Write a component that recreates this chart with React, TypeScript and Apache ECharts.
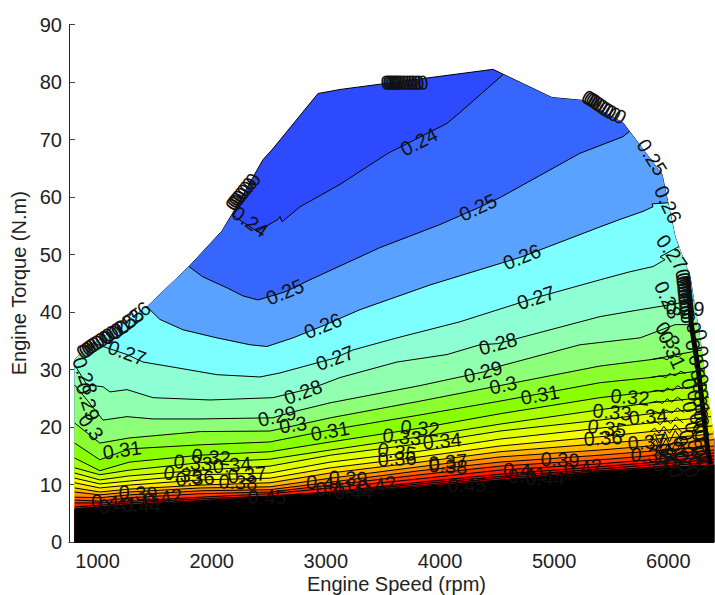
import React, { useEffect, useRef } from "react";
import * as echarts from "echarts";

type P = [number, number];
type L = [number, number, string, number];

const speedTicks = [1000, 2000, 3000, 4000, 5000, 6000];
const gridSpeeds = [800, 1020, 1280, 1900, 2510, 3040, 3825, 4525, 5400, 5840];

const leftEdge: P[] = [[800, 31.7], [890, 33.4], [1433, 40.9], [1801, 47.9], [2090, 54.1], [2187, 57.3], [2449, 66.5], [2528, 68.2], [2931, 78.0], [3124, 78.7], [4464, 82.2]];
const rightEdge: P[] = [[4981, 77.3], [5253, 76.8], [5603, 72.9], [5945, 63.9], [6059, 53.1], [6190, 46.1], [6278, 35.2], [6348, 24.7], [6400, 17.8]];

const line024: P[] = [[2178, 56.9], [2397, 54.0], [2581, 56.1], [2598, 56.6], [2616, 55.7], [2774, 58.3], [3124, 62.2], [3544, 67.6], [4061, 72.8], [4175, 74.7], [4552, 81.3]];
const line025: P[] = [[1801, 47.9], [1924, 46.1], [2134, 44.2], [2274, 42.8], [2406, 42.1], [2642, 43.5], [2861, 45.6], [3474, 51.2], [3999, 55.2], [4333, 58.1], [4526, 59.9], [5226, 67.6], [5603, 70.5], [5660, 71.4]];
const line026: P[] = [[1433, 40.9], [1547, 38.7], [1749, 36.9], [2046, 35.5], [2336, 34.3], [2484, 34.0], [2712, 35.5], [2975, 37.6], [3299, 40.4], [3912, 44.7], [4718, 49.6], [5402, 54.8], [5577, 56.1], [5778, 57.5], [5866, 58.3], [5857, 58.8], [5997, 59.0]];
const line027: P[] = [[960, 34.6], [1258, 32.6], [1398, 31.3], [1696, 30.3], [2046, 29.1], [2423, 28.7], [2598, 29.4], [3080, 32.0], [3238, 33.4], [3623, 35.5], [4175, 38.3], [4841, 42.5], [5402, 45.6], [5664, 47.0], [5866, 47.9], [5971, 49.1], [5927, 49.6], [6094, 51.4]];
const line028: P[] = [[800, 30.8], [908, 27.3], [1048, 27.0], [1109, 26.1], [1258, 26.5], [1486, 25.1], [1985, 24.7], [2537, 25.1], [2887, 26.8], [3124, 28.6], [3623, 31.3], [4061, 32.6], [4350, 34.3], [4506, 34.5], [5402, 39.2], [5752, 40.4], [6032, 41.3], [6225, 42.1]];
const line029: P[] = [[800, 27.3], [908, 24.7], [1048, 21.2], [1258, 21.8], [1486, 21.4], [1898, 21.4], [2537, 21.6], [2686, 22.5], [3036, 24.2], [3825, 27.2], [4386, 29.6], [4526, 30.6], [5226, 34.3], [5752, 35.5], [6059, 37.8], [6251, 37.8]];

const torque030 = [20.7, 17.2, 18.1, 19.2, 19.3, 21.6, 24.5, 27.2, 30.6, 31.7, 33.4];
const torque031 = [17.2, 14.3, 16.2, 16.9, 17.4, 19.5, 22.1, 24.5, 27.7, 28.6, 29.9];
const torque032 = [14.6, 12.4, 13.9, 15.1, 15.7, 17.4, 19.8, 22.3, 25.1, 26.1, 27.3];
const torque033 = [12.9, 11.7, 12.5, 13.8, 14.4, 16.0, 18.3, 20.5, 23.0, 24.2, 25.2];
const torque034 = [12.0, 10.8, 11.5, 12.5, 13.2, 15.1, 17.1, 19.3, 21.2, 22.3, 23.3];
const torque035 = [11.1, 10.1, 10.6, 11.7, 12.0, 13.9, 15.8, 17.9, 19.8, 20.7, 21.8];
const torque036 = [10.3, 9.4, 9.9, 10.8, 11.1, 12.9, 14.8, 16.7, 18.3, 19.2, 20.2];
const torque037 = [9.4, 8.7, 9.2, 9.9, 10.3, 12.0, 13.9, 15.7, 17.1, 17.8, 18.8];
const torque038 = [8.7, 8.2, 8.7, 9.4, 9.6, 11.1, 13.1, 14.8, 16.0, 16.7, 17.8];
const torque039 = [7.8, 7.7, 8.2, 8.9, 9.1, 10.4, 12.4, 13.9, 15.1, 15.8, 16.7];
const torque040 = [7.3, 7.1, 7.7, 8.4, 8.7, 9.9, 11.7, 13.2, 14.3, 15.0, 16.0];
const torque041 = [6.8, 6.8, 7.1, 7.8, 8.4, 9.4, 11.0, 12.5, 13.6, 14.3, 15.5];
const torque042 = [6.1, 6.4, 6.8, 7.5, 8.0, 8.7, 10.4, 11.8, 13.1, 13.8, 15.0];
const torque043 = [5.8, 6.1, 6.5, 7.2, 7.9, 8.6, 10.1, 11.4, 12.7, 13.4, 14.4];
const torque045 = [5.7, 6.0, 6.4, 7.1, 7.8, 8.4, 9.8, 11.1, 12.4, 13.0, 13.9];
const torqueBlack = [5.6, 5.9, 6.3, 7.0, 7.7, 8.3, 9.6, 10.8, 12.2, 12.8, 13.4];

const onGrid = (t: number[], endSpeed: number): P[] => t.map((v, i) => [i < gridSpeeds.length ? gridSpeeds[i] : endSpeed, v] as P);

const contourLines: P[][] = [
  line024, line025, line026, line027, line028, line029,
  onGrid(torque030, 6295), onGrid(torque031, 6321), onGrid(torque032, 6339), onGrid(torque033, 6356),
  onGrid(torque034, 6365), onGrid(torque035, 6374), onGrid(torque036, 6383), onGrid(torque037, 6391),
  onGrid(torque038, 6400), onGrid(torque039, 6400), onGrid(torque040, 6400), onGrid(torque041, 6400),
  onGrid(torque042, 6400), onGrid(torque043, 6400), onGrid(torque045, 6400),
];
const blackLine = onGrid(torqueBlack, 6400);

// Jagged ends of the contours close to the right-hand edge.
const rightWiggles: P[][] = [
  [[5840, 31.7], [5950, 32.0], [5990, 31.7], [6030, 32.4], [6090, 32.2], [6130, 32.9]],
  [[5840, 28.6], [5930, 28.9], [5980, 28.6], [6010, 29.3], [6060, 28.9], [6110, 29.7], [6150, 29.3]],
  [[5840, 26.1], [5900, 26.4], [5960, 26.1], [5990, 26.8], [6040, 26.3], [6080, 27.2], [6130, 26.6]],
  [[5840, 24.2], [5900, 24.5], [5950, 24.1], [5990, 24.9], [6030, 24.3], [6080, 25.2], [6130, 24.5]],
  [[5840, 22.3], [5890, 22.7], [5940, 22.1], [5980, 23.0], [6030, 22.4], [6080, 23.3], [6140, 22.5]],
  [[5840, 20.7], [5880, 21.1], [5930, 20.4], [5970, 21.4], [6020, 20.6], [6070, 21.7], [6130, 20.7]],
  [[5840, 19.2], [5880, 19.8], [5920, 18.9], [5960, 20.1], [6010, 18.9], [6060, 20.4], [6120, 19.0]],
  [[5840, 17.8], [5880, 18.9], [5920, 17.2], [5970, 19.2], [6010, 17.4], [6060, 19.4], [6120, 17.6]],
  [[5840, 16.7], [5890, 17.8], [5930, 16.1], [5980, 18.0], [6030, 16.0], [6090, 18.2], [6150, 16.2]],
  [[5840, 15.8], [5890, 16.9], [5940, 15.1], [6000, 17.1], [6050, 15.0], [6110, 17.2], [6170, 15.1]],
];
const edgeHatch: P[] = [[6170, 46], [6200, 38], [6262, 30], [6310, 22], [6345, 16], [6370, 13.5]];

const topColor = "#2E4AFF";
const bandColors = [
  "#3766FF", "#5AA2FF", "#7DFFFF", "#8EFFD4", "#90FFB0", "#8EFF78", "#8CFF30", "#8AFF00",
  "#A8FF00", "#C8FF00", "#E0FF00", "#F4FF00", "#FFE000", "#FFB800", "#FF8C00", "#FF6000",
  "#FF3800", "#FF1800", "#FF0000", "#FF0000", "#FF0000",
];

const mainLabels: L[] = [
  [3816, 69.6, "0.24", 27], [2336, 55.7, "0.24", -35],
  [4333, 58.2, "0.25", 25], [2642, 43.5, "0.25", 22], [5857, 66.9, "0.25", -58],
  [4718, 49.6, "0.26", 22], [2975, 37.6, "0.26", 22], [1311, 39.0, "0.26", 40], [1250, 38.0, "0.25", 38], [1180, 37.0, "0.25", 36], [5997, 58.7, "0.26", -65],
  [4841, 42.5, "0.27", 18], [3080, 32.0, "0.27", 20], [1258, 32.9, "0.27", -20], [6032, 50.3, "0.27", -55],
  [4508, 34.5, "0.28", 15], [2800, 26.1, "0.28", 20], [890, 28.9, "0.28", -70], [5997, 42.1, "0.28", -65],
  [4377, 29.6, "0.29", 15], [2572, 21.9, "0.29", 12], [916, 24.4, "0.29", -72], [6146, 40.7, "0.29", -3],
  [4552, 27.3, "0.3", 12], [2712, 20.4, "0.3", 8], [943, 20.0, "0.3", -55], [5997, 36.0, "0.3", -55],
  [4876, 25.6, "0.31", 10], [3036, 19.3, "0.31", 10], [1214, 16.0, "0.31", 8], [6032, 33.4, "0.31", -65],
  [5664, 25.2, "0.32", -5], [3825, 19.8, "0.32", -5], [1994, 14.8, "0.32", -5],
  [5507, 22.6, "0.33", -5], [3667, 18.3, "0.33", -5], [1836, 13.8, "0.33", -5],
  [5822, 21.8, "0.34", 5], [4018, 17.6, "0.34", 5], [2178, 13.4, "0.34", 5],
  [5463, 19.8, "0.35", -8], [3623, 15.7, "0.35", -8], [1749, 11.7, "0.35", -8],
  [5428, 18.1, "0.36", 3], [3623, 14.5, "0.36", 3], [1854, 11.1, "0.36", 3],
  [5813, 17.4, "0.37", 5], [4070, 13.9, "0.37", 5], [2309, 11.7, "0.37", 5],
  [5840, 15.1, "0.38", -3], [4070, 13.2, "0.38", -3], [2230, 10.4, "0.38", -3],
  [5051, 14.3, "0.39", -3], [3194, 11.1, "0.39", -3], [1354, 8.5, "0.39", -3],
  [4675, 12.5, "0.4", -3], [2949, 10.3, "0.4", -3], [1065, 7.0, "0.4", -3],
  [4762, 11.7, "0.41", 5], [3080, 9.4, "0.41", 5], [1179, 6.4, "0.41", 5],
  [5253, 12.9, "0.42", 8], [3448, 9.9, "0.42", 8], [1573, 7.7, "0.42", 8],
  [4920, 11.1, "0.44", 0], [3240, 8.7, "0.44", 0], [1380, 6.4, "0.44", 0],
  [4236, 9.9, "0.45", 0], [2484, 7.8, "0.45", 0],
];

const stackTop: L[] = [3530, 3546, 3562, 3578, 3594, 3610, 3626, 3644, 3666, 3690, 3716, 3742, 3764, 3790, 3815, 3850].map((s) => [s, 79.9, "0", 8] as L);
const stackUpperRight: L[] = ([[5296, 77.3], [5314, 77.1], [5332, 76.9], [5350, 76.7], [5370, 76.4], [5392, 76.1], [5416, 75.8], [5442, 75.4], [5468, 75.1], [5494, 74.8], [5530, 74.4], [5577, 74.0]] as P[]).map((p) => [p[0], p[1], "0", -30] as L);
const stackUpperLeft: L[] = ([[2187, 58.7], [2200, 59.1], [2213, 59.4], [2226, 59.7], [2242, 60.1], [2262, 60.6], [2284, 61.2], [2306, 61.7], [2330, 62.3], [2362, 63.0]] as P[]).map((p) => [p[0], p[1], "0", 60] as L);
const stackLowerLeft: L[] = ([[873, 33.1], [892, 33.3], [912, 33.6], [932, 33.9], [954, 34.2], [978, 34.5], [1005, 34.8], [1035, 35.2], [1065, 35.6], [1095, 36.0], [1130, 36.4], [1170, 36.9]] as P[]).map((p) => [p[0], p[1], "0", 35] as L);
const stackRightUpper: L[] = ([[6129, 46.5], [6132, 45.9], [6135, 45.4], [6138, 44.9], [6141, 44.3], [6144, 43.7], [6147, 43.2], [6150, 42.6], [6153, 42.1], [6156, 41.5], [6159, 40.9], [6163, 40.3], [6167, 39.7], [6172, 39.0]] as P[]).map((p) => [p[0], p[1], "0", -75] as L);
const stackRightLower: L[] = ([[6225, 37.3], [6278, 36.0], [6216, 34.3], [6290, 33.1], [6243, 31.7], [6290, 30.8], [6260, 29.1], [6290, 28.2], [6278, 26.8], [6290, 25.6], [6280, 24.4], [6295, 23.3], [6285, 22.1], [6295, 20.9], [6280, 19.8], [6295, 18.6], [6270, 18.6], [6290, 17.2], [6234, 16.9], [6295, 16.0], [6172, 15.7], [6290, 15.1], [6102, 14.6], [6234, 13.9], [6015, 13.9], [6146, 13.2], [5927, 13.2], [6290, 13.4], [6067, 12.2], [6207, 12.2], [5950, 16.2], [6000, 15.5], [6060, 16.6], [6110, 17.5], [6160, 18.6], [6210, 20.0], [6250, 21.5], [6190, 23.5], [6230, 25.5], [6180, 27.5], [5975, 14.6], [6040, 13.7], [6120, 15.0], [6260, 15.6]] as P[]).map((p) => [p[0], p[1], "0", -75] as L);

const allLabels: L[] = [...mainLabels, ...stackTop, ...stackUpperRight, ...stackUpperLeft, ...stackLowerLeft, ...stackRightUpper, ...stackRightLower];

const FONT = '"Liberation Sans", Arial, sans-serif';
const TEXT = "#222222";
const bottomRight: P = [6400, 0];
const bottomLeft: P = [800, 0];

// Region under a contour: the line, down the right edge, along the bottom, up the left edge.
const under = (line: P[]): P[] => {
  const a = line[0];
  const b = line[line.length - 1];
  return [...line, ...rightEdge.filter((p) => p[0] > b[0]), bottomRight, bottomLeft, ...leftEdge.filter((p) => p[0] < a[0])];
};
const envelope: P[] = [...leftEdge, ...rightEdge, bottomRight, bottomLeft];

export default function App() {
  const ref = useRef<HTMLDivElement>(null);
  useEffect(() => {
    const chart = echarts.init(ref.current!, undefined, { renderer: "svg" });
    const cx = (api: any, pts: P[]) => pts.map((p) => api.coord(p));
    chart.setOption({
      animation: false,
      backgroundColor: "#ffffff",
      grid: { left: 69, top: 24.5, width: 645, height: 517.5, containLabel: false, outerBoundsMode: "none" },
      xAxis: {
        type: "value", min: 750, max: 6400,
        name: "Engine Speed (rpm)", nameLocation: "middle", nameGap: 32, nameMoveOverlap: false,
        nameTextStyle: { fontFamily: FONT, fontSize: 20, color: TEXT, padding: [0, 0, 0, 10] },
        axisLine: { show: true, lineStyle: { color: "#222", width: 1 } },
        axisTick: { show: true, inside: true, length: 6, customValues: speedTicks, lineStyle: { color: "#444" } },
        axisLabel: { show: true, customValues: speedTicks, formatter: (v: number) => String(v), fontFamily: FONT, fontSize: 20, color: TEXT, margin: 9 },
        splitLine: { show: false },
      },
      yAxis: {
        type: "value", min: 0, max: 90, interval: 10,
        name: "Engine Torque (N.m)", nameLocation: "middle", nameGap: 40,
        nameTextStyle: { fontFamily: FONT, fontSize: 20, color: TEXT },
        axisLine: { show: true, lineStyle: { color: "#222", width: 1 } },
        axisTick: { show: true, inside: true, length: 6, lineStyle: { color: "#444" } },
        axisLabel: { fontFamily: FONT, fontSize: 20, color: TEXT, margin: 7 },
        splitLine: { show: false },
      },
      series: [
        {
          type: "custom", coordinateSystem: "cartesian2d", silent: true, z: 3,
          data: [[0, 0]],
          renderItem: (_: any, api: any) => ({
            type: "group",
            children: [
              { type: "polygon", shape: { points: cx(api, envelope) }, style: { fill: topColor, stroke: "#000", lineWidth: 1 } },
              ...contourLines.map((line, i) => ({ type: "polygon", shape: { points: cx(api, under(line)) }, style: { fill: bandColors[i], stroke: "none" } })),
              ...contourLines.map((line) => ({ type: "polyline", shape: { points: cx(api, line) }, style: { fill: "none", stroke: "#000", lineWidth: 1 } })),
              ...rightWiggles.map((line) => ({ type: "polyline", shape: { points: cx(api, line) }, style: { fill: "none", stroke: "#000", lineWidth: 1 } })),
              { type: "polyline", shape: { points: cx(api, edgeHatch) }, style: { fill: "none", stroke: "#000", lineWidth: 5 } },
              { type: "polygon", shape: { points: cx(api, under(blackLine)) }, style: { fill: "#000", stroke: "#000", lineWidth: 1 } },
            ],
          }),
        },
        {
          type: "custom", coordinateSystem: "cartesian2d", silent: true, z: 4,
          data: allLabels.map((l) => [l[0], l[1]]),
          renderItem: (params: any, api: any) => {
            const l = allLabels[params.dataIndex];
            const [x, y] = api.coord([l[0], l[1]]);
            return {
              type: "text", x, y, rotation: (l[3] * Math.PI) / 180,
              style: { text: l[2], fontFamily: FONT, fontSize: 20, fill: "#111111", align: "center", verticalAlign: "middle" },
            };
          },
        },
      ],
    });
    return () => chart.dispose();
  }, []);
  return <div ref={ref} style={{ position: "fixed", left: 0, top: 0, width: 715, height: 595 }} />;
}
